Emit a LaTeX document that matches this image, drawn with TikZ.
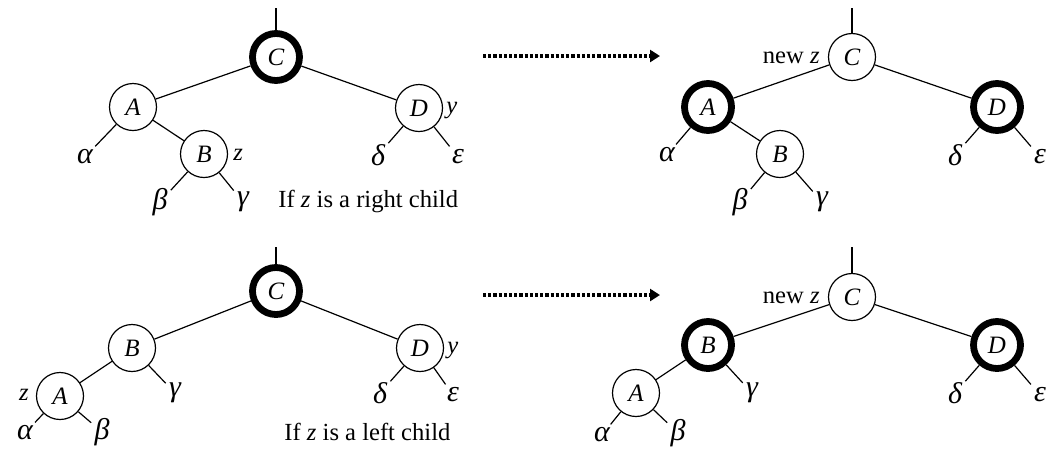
\documentclass[tikz,border=0pt]{standalone}
\usepackage{fontspec}
\setmainfont{Liberation Serif}
\usetikzlibrary{arrows.meta}
\begin{document}
\begin{tikzpicture}[x=0.5pt,y=-0.5pt,
  nd/.style={circle,draw,line width=0.6pt,minimum size=23.5pt,inner sep=0pt,font=\itshape\fontsize{12.5}{14}\selectfont},
  bk/.style={nd,line width=3.4pt},
  lf/.style={inner sep=1.5pt,font=\itshape\fontsize{15}{16}\selectfont},
  tx/.style={inner sep=0pt,font=\fontsize{12.3}{14}\selectfont},
  ed/.style={line width=0.6pt},
  arr/.style={densely dotted,line width=1.6pt,-{Triangle[length=5pt,width=6pt]}}]
\useasboundingbox (0,0) rectangle (1047,456);
% ---------- top left
\coordinate (t1) at (276,8);
\node[bk] (C1) at (276,57) {C};
\node[nd] (A1) at (133,107) {A};
\node[nd] (B1) at (204,154) {B};
\node[nd] (D1) at (419,108) {D};
\node[lf] (a1) at (85,157) {α};
\node[lf] (b1) at (160,202) {β};
\node[lf] (g1) at (243,202) {γ};
\node[lf] (d1) at (378,155) {δ};
\node[lf] (e1) at (458,157) {ε};
\node[tx,anchor=base west] (y1) at (446,113) {\textit{y}};
\node[tx,anchor=base west] (z1) at (233,160) {\textit{z}};
\node[tx,anchor=base west] (l1) at (278,207) {If \textit{z} is a right child};
\draw[ed] (t1) -- (C1);
\draw[ed] (C1) -- (A1);
\draw[ed] (C1) -- (D1);
\draw[ed] (A1) -- (B1);
\draw[ed] (A1) -- (a1);
\draw[ed] (B1) -- (b1);
\draw[ed] (B1) -- (g1);
\draw[ed] (D1) -- (d1);
\draw[ed] (D1) -- (e1);
% ---------- top arrow
\coordinate (p1) at (483,56);
\coordinate (q1) at (660,56);
\draw[arr] (p1) -- (q1);
% ---------- top right
\coordinate (t2) at (852,8);
\node[nd] (C2) at (852,57) {C};
\node[bk] (A2) at (708,107) {A};
\node[nd] (B2) at (780,154) {B};
\node[bk] (D2) at (997,107) {D};
\node[lf] (a2) at (667,155) {α};
\node[lf] (b2) at (740,202) {β};
\node[lf] (g2) at (822,202) {γ};
\node[lf] (d2) at (955,155) {δ};
\node[lf] (e2) at (1040,157) {ε};
\node[tx,anchor=base east] (n2) at (820,63) {new \textit{z}};
\draw[ed] (t2) -- (C2);
\draw[ed] (C2) -- (A2);
\draw[ed] (C2) -- (D2);
\draw[ed] (A2) -- (B2);
\draw[ed] (A2) -- (a2);
\draw[ed] (B2) -- (b2);
\draw[ed] (B2) -- (g2);
\draw[ed] (D2) -- (d2);
\draw[ed] (D2) -- (e2);
% ---------- bottom left
\coordinate (t3) at (276,247);
\node[bk] (C3) at (276,291) {C};
\node[nd] (B3) at (132,348) {B};
\node[nd] (A3) at (60,396) {A};
\node[nd] (D3) at (420,348) {D};
\node[lf] (a3) at (25,433) {α};
\node[lf] (b3) at (102,432) {β};
\node[lf] (g3) at (175,393) {γ};
\node[lf] (d3) at (380,393) {δ};
\node[lf] (e3) at (453,395) {ε};
\node[tx,anchor=base west] (y3) at (447,353) {\textit{y}};
\node[tx,anchor=base east] (z3) at (29,400) {\textit{z}};
\node[tx,anchor=base west] (l3) at (284,440) {If \textit{z} is a left child};
\draw[ed] (t3) -- (C3);
\draw[ed] (C3) -- (B3);
\draw[ed] (C3) -- (D3);
\draw[ed] (B3) -- (A3);
\draw[ed] (B3) -- (g3);
\draw[ed] (A3) -- (a3);
\draw[ed] (A3) -- (b3);
\draw[ed] (D3) -- (d3);
\draw[ed] (D3) -- (e3);
% ---------- bottom arrow
\coordinate (p3) at (483,295);
\coordinate (q3) at (660,295);
\draw[arr] (p3) -- (q3);
% ---------- bottom right
\coordinate (t4) at (852,247);
\node[nd] (C4) at (852,297) {C};
\node[bk] (B4) at (708,345) {B};
\node[nd] (A4) at (636,393) {A};
\node[bk] (D4) at (997,345) {D};
\node[lf] (a4) at (602,435) {α};
\node[lf] (b4) at (678,433) {β};
\node[lf] (g4) at (752,393) {γ};
\node[lf] (d4) at (955,393) {δ};
\node[lf] (e4) at (1040,395) {ε};
\node[tx,anchor=base east] (n4) at (820,303) {new \textit{z}};
\draw[ed] (t4) -- (C4);
\draw[ed] (C4) -- (B4);
\draw[ed] (C4) -- (D4);
\draw[ed] (B4) -- (A4);
\draw[ed] (B4) -- (g4);
\draw[ed] (A4) -- (a4);
\draw[ed] (A4) -- (b4);
\draw[ed] (D4) -- (d4);
\draw[ed] (D4) -- (e4);
\end{tikzpicture}
\end{document}
